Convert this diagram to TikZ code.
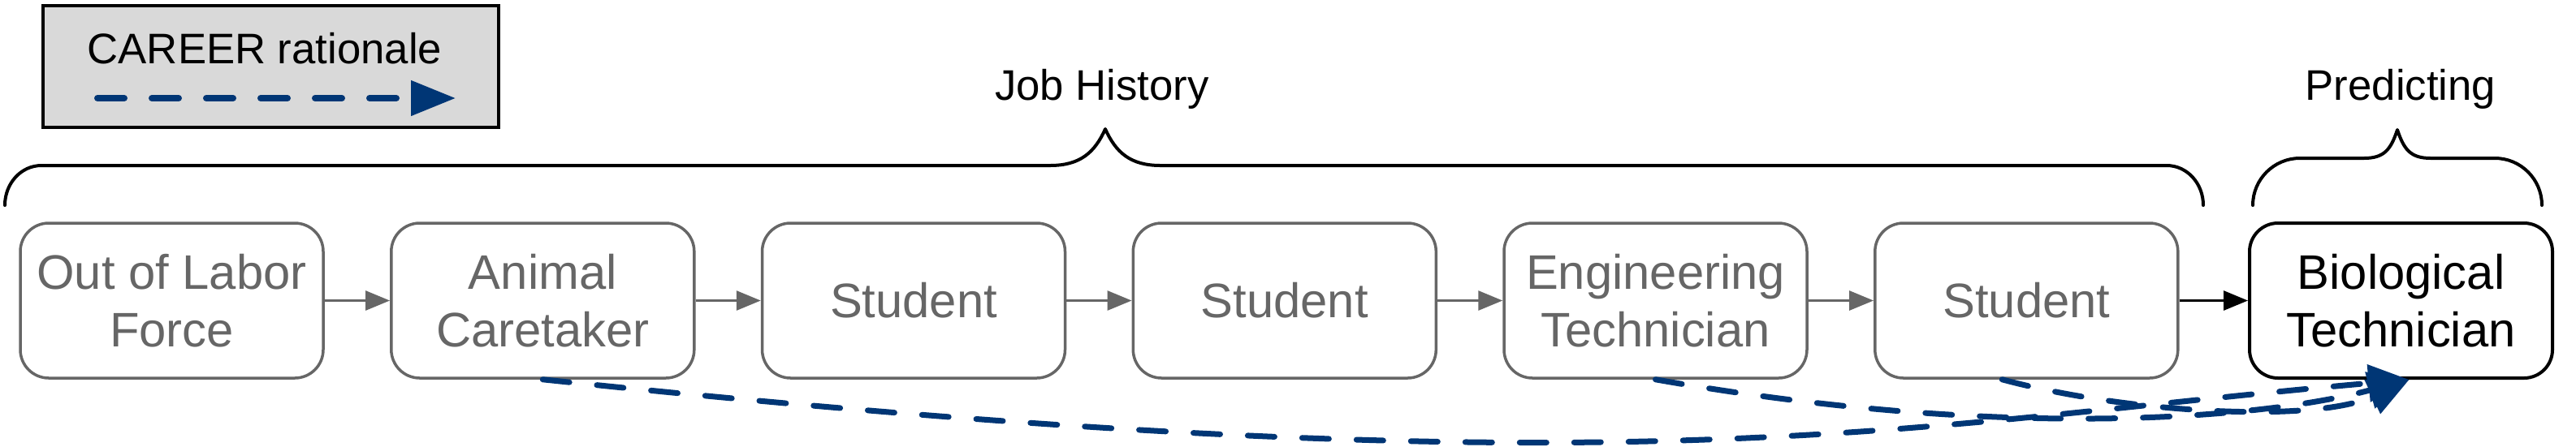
\documentclass[tikz,border=0pt]{standalone}
\usepackage{fontspec}
\setmainfont{Liberation Sans}
\usetikzlibrary{arrows.meta}
\definecolor{jobgray}{HTML}{666666}
\definecolor{careerblue}{RGB}{0,54,117}
\definecolor{keyfill}{HTML}{D9D9D9}

\begin{document}
\begin{tikzpicture}[
  job/.style={draw=jobgray, text=jobgray, line width=0.035cm, rounded corners=0.35cm,
    minimum width=3.73cm, minimum height=1.91cm, align=center, inner sep=0pt,
    font=\fontsize{17}{20.4}\selectfont},
  target/.style={job, draw=black, text=black, line width=0.04cm},
  hop/.style={-{Triangle[length=0.3cm,width=0.24cm]}, draw=jobgray, line width=0.03cm},
  rationale/.style={-{Triangle[length=0.5cm,width=0.45cm]}, draw=careerblue,
    line width=0.07cm, line cap=round, dash pattern=on 0.33cm off 0.34cm},
  brace/.style={line width=0.04cm, line cap=round, line join=round},
  heading/.style={font=\fontsize{15}{18}\selectfont, anchor=base},
]
\useasboundingbox (0,0) rectangle (31.72,5.5);

\node[draw=black, fill=keyfill, line width=0.04cm, minimum width=5.61cm, minimum height=1.5cm, inner sep=0pt] (key) at (3.335,4.68) {};
\node[heading] (keytxt) at (3.26,4.72) {CAREER rationale};
\coordinate (keyfrom) at (1.2,4.29);
\coordinate (keyto) at (5.61,4.29);
\draw[rationale, line width=0.08cm, -{Triangle[length=0.55cm,width=0.42cm]}] (keyfrom) -- (keyto);

\node[heading] (history) at (13.57,4.27) {Job History};
\node[heading] (predicting) at (29.56,4.27) {Predicting};

\draw[brace] (0.06,2.97) .. controls (0.06,3.24) and (0.26,3.46) .. (0.51,3.46) -- (12.93,3.46)
  .. controls (13.3,3.46) and (13.48,3.62) .. (13.61,3.91)
  .. controls (13.74,3.62) and (13.92,3.46) .. (14.29,3.46) -- (26.68,3.46)
  .. controls (26.93,3.46) and (27.13,3.24) .. (27.13,2.97);
\draw[brace] (27.74,2.97) .. controls (27.74,3.29) and (28.0,3.55) .. (28.32,3.55) -- (29.11,3.55)
  .. controls (29.36,3.55) and (29.44,3.66) .. (29.52,3.90)
  .. controls (29.6,3.66) and (29.68,3.55) .. (29.93,3.55) -- (30.72,3.55)
  .. controls (31.04,3.55) and (31.3,3.29) .. (31.3,2.97);

\node[job] (olf) at (2.115,1.795) {Out of Labor\\Force};
\node[job] (ac) at (6.683,1.795) {Animal\\Caretaker};
\node[job] (s1) at (11.25,1.795) {Student};
\node[job] (s2) at (15.818,1.795) {Student};
\node[job] (et) at (20.385,1.795) {Engineering\\Technician};
\node[job] (s3) at (24.953,1.795) {Student};
\node[target] (bt) at (29.565,1.795) {Biological\\Technician};

\draw[hop] (olf) -- (ac);
\draw[hop] (ac) -- (s1);
\draw[hop] (s1) -- (s2);
\draw[hop] (s2) -- (et);
\draw[hop] (et) -- (s3);
\draw[hop, draw=black] (s3) -- (bt);

\draw[rationale] (ac.south) .. controls +(-6:13.65) and +(185:6.28) .. ([xshift=0.1cm]bt.south);
\draw[rationale] (et.south) .. controls +(-10:4.32) and +(195:1.89) .. ([xshift=0.1cm]bt.south);
\draw[rationale] ([xshift=-0.3cm]s3.south) .. controls +(-15:1.66) and +(205:1.26) .. ([xshift=0.1cm]bt.south);
\end{tikzpicture}
\end{document}
